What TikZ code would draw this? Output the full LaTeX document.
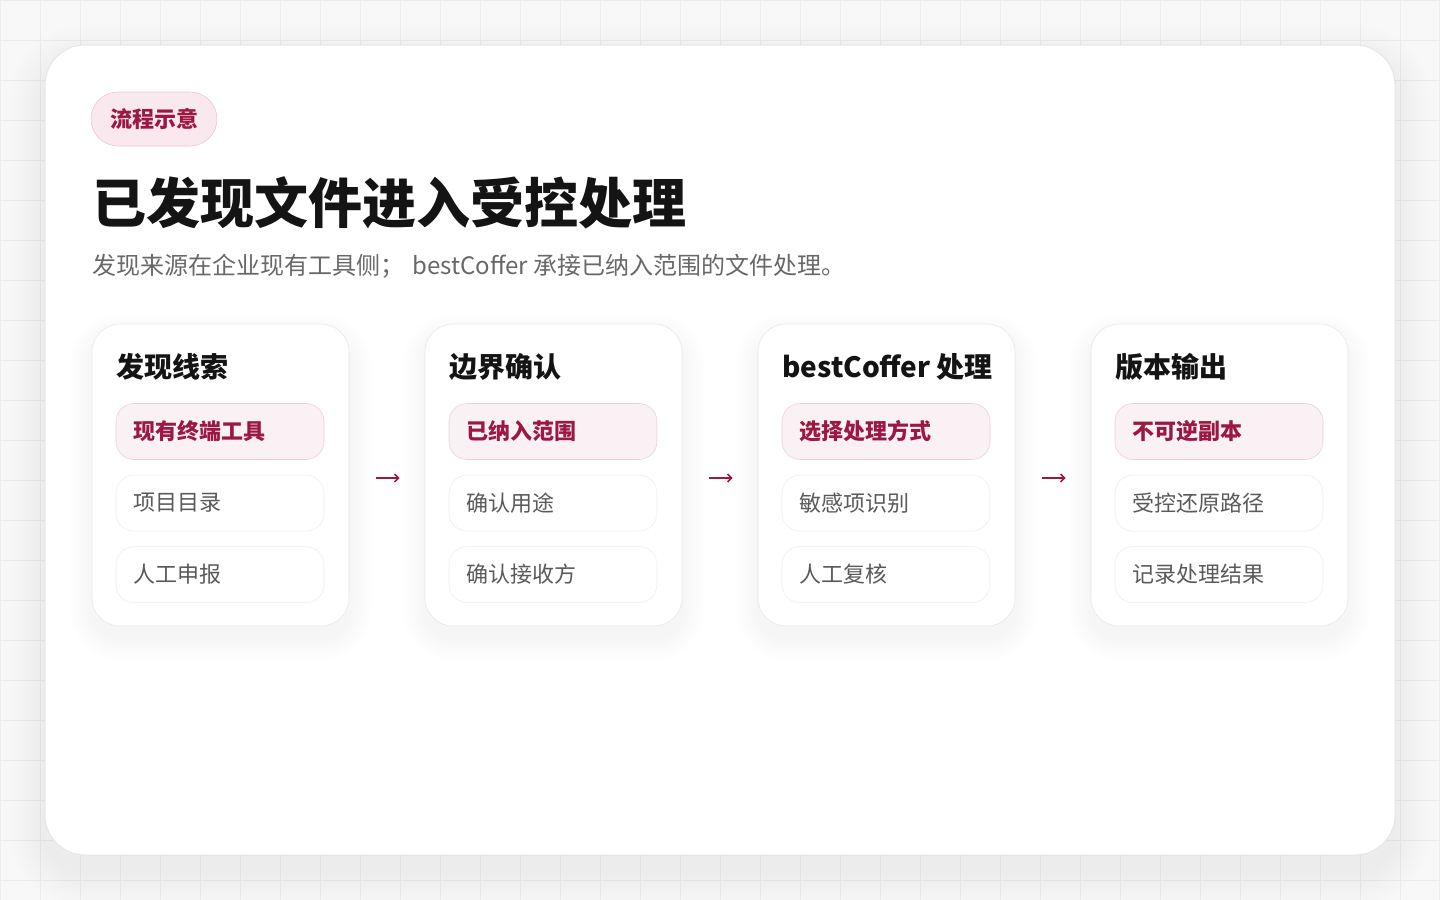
\documentclass[tikz,border=0pt]{standalone}
\usepackage{fontspec}
\setmainfont{Noto Sans CJK SC}
\usepackage{xcolor}
\usetikzlibrary{arrows.meta,positioning}
\definecolor{crimson}{HTML}{9C1842}
\definecolor{pagebg}{HTML}{F8F8F8}
\definecolor{gridgray}{HTML}{ECECEC}
\definecolor{cardline}{HTML}{E6E6E6}
\definecolor{itemline}{HTML}{EDEDED}
\definecolor{keyfill}{HTML}{F9F1F4}
\definecolor{keyline}{HTML}{EFCCD8}
\definecolor{badgefill}{HTML}{F9E9EF}
\definecolor{badgeline}{HTML}{EBC3D1}
\definecolor{ink}{HTML}{141414}
\definecolor{softink}{HTML}{686868}
\definecolor{itemink}{HTML}{5A5A5A}
\tikzset{
	panel/.style={draw=cardline, fill=white, rounded corners=21pt,
			minimum width=192.75pt, minimum height=226.5pt},
	panelshade/.style={fill=black, opacity=0.0045},
	panelhead/.style={anchor=west, inner sep=0pt, text=ink, font=\fontsize{21pt}{24pt}\selectfont\bfseries},
	plainitem/.style={draw=itemline, fill=white, rounded corners=13.5pt,
			minimum width=156pt, minimum height=42pt, inner xsep=12.75pt,
			text width=130.5pt, align=left, text=itemink,
			font=\fontsize{16.5pt}{20pt}\selectfont},
	keyitem/.style={plainitem, draw=keyline, fill=keyfill, text=crimson, font=\fontsize{16.5pt}{20pt}\selectfont\bfseries},
	flow/.style={crimson, line width=1.2pt, -{Straight Barb[length=3pt,width=6pt]},
			shorten <=20.25pt, shorten >=18.75pt}
}

\begin{document}
\begin{tikzpicture}[x=0.75pt, y=-0.75pt]
	\useasboundingbox (0,0) rectangle (1440,900);

	% Background grid
	\fill[pagebg] (0,0) rectangle (1440,900);
	\draw[gridgray, line width=0.75pt, step=30pt] (0,0) grid (1440,900);

	% Main sheet with soft shadow
	\foreach \k in {1,...,12}
	\fill[fill=black, opacity=0.005, rounded corners=30pt+2.25pt*\k] (45-3*\k,61-3*\k) rectangle (1395+3*\k,871+3*\k);
	\filldraw[fill=white, draw=cardline, line width=0.75pt, rounded corners=30pt] (45,45) rectangle (1395,855);

	% Badge and headings
	\node[draw=badgeline, fill=badgefill, rounded corners=20.25pt, minimum width=94.5pt, minimum height=40.5pt,
		text=crimson, font=\fontsize{16.5pt}{20pt}\selectfont\bfseries] (badge) at (154,119) {流程示意};
	\node[anchor=west, inner sep=0pt, text=ink, font=\fontsize{40.5pt}{46pt}\selectfont\bfseries] (headline) at (92,203) {已发现文件进入受控处理};
	\node[anchor=west, inner sep=0pt, text=softink, font=\fontsize{18pt}{22pt}\selectfont] (subline) at (92,266) {发现来源在企业现有工具侧；\hspace{6pt}bestCoffer 承接已纳入范围的文件处理。};

	% Step cards
	\foreach \i/\head/\itema/\itemb/\itemc [evaluate=\i as \cx using 220.5+333*(\i-1)] in {
			1/发现线索/现有终端工具/项目目录/人工申报,
			2/边界确认/已纳入范围/确认用途/确认接收方,
			3/bestCoffer 处理/选择处理方式/敏感项识别/人工复核,
			4/版本输出/不可逆副本/受控还原路径/记录处理结果} {
		\foreach \k in {1,...,9}
		\fill[panelshade, rounded corners=21pt+1.9pt*\k] (\cx-128.5-2.5*\k,336-2.5*\k) rectangle (\cx+128.5+2.5*\k,638+2.5*\k);
		\node[panel] (card\i) at (\cx,475) {};
		\node[panelhead] (head\i) at (\cx-104.5,367) {\head};
		\node[keyitem] (key\i) at (\cx-0.5,431.5) {\itema};
		\node[plainitem, below=11.25pt of key\i] (mid\i) {\itemb};
		\node[plainitem, below=11.25pt of mid\i] (low\i) {\itemc};
	}

	% Flow arrows
	\foreach \i [evaluate=\i as \j using int(\i+1)] in {1,2,3}
	\draw[flow] ([yshift=-2.25pt]card\i.east) -- ([yshift=-2.25pt]card\j.west);

\end{tikzpicture}
\end{document}
